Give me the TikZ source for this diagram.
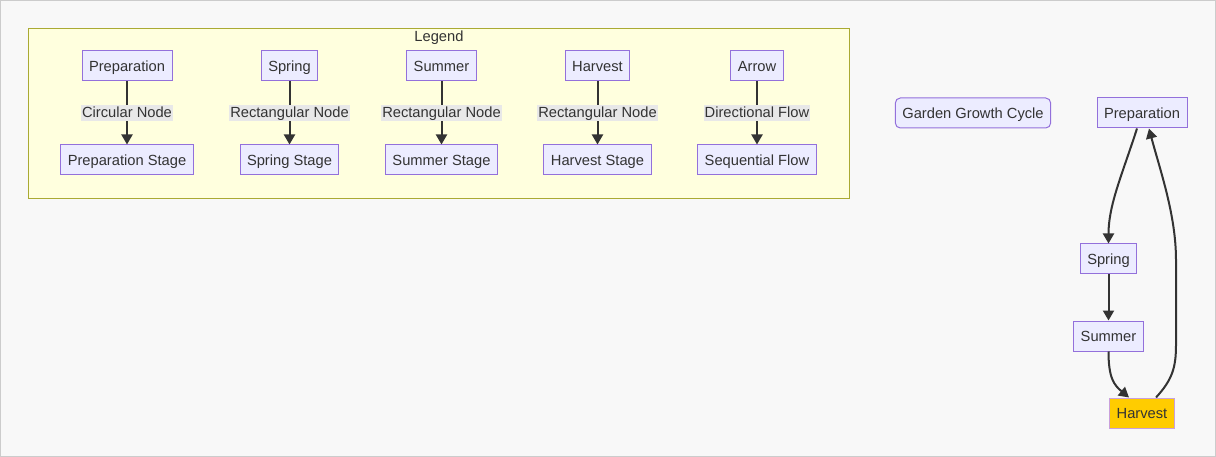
\documentclass[tikz,border=0pt]{standalone}
\usepackage{fontspec}
\setmainfont{Liberation Sans}
\usetikzlibrary{arrows.meta}

\definecolor{bgc}{HTML}{F8F8F8}
\definecolor{framec}{HTML}{CCCCCC}
\definecolor{legfill}{HTML}{FFFFDE}
\definecolor{legline}{HTML}{AAAA33}
\definecolor{boxfill}{HTML}{ECECFF}
\definecolor{boxline}{HTML}{9370DB}
\definecolor{txt}{HTML}{333333}
\definecolor{lblfill}{HTML}{E8E8E8}
\definecolor{gold}{HTML}{FFCC00}
\definecolor{goldline}{HTML}{C9A0DC}

\begin{document}
\begin{tikzpicture}[x=1pt, y=-1pt,
    font=\fontsize{14.7}{17}\selectfont, text=txt,
    box/.style={rectangle, draw=boxline, fill=boxfill, line width=1pt,
      minimum height=30pt, inner xsep=7pt, inner ysep=0pt,
      text height=12.5pt, text depth=2pt},
    elabel/.style={fill=lblfill, inner xsep=1pt, inner ysep=0.5pt, text=txt,
      text height=12.5pt, text depth=2.5pt},
    flow/.style={draw=txt, line width=2pt, -{Triangle[length=10pt, width=11pt]}}]

    % 背景
    \useasboundingbox (0,0) rectangle (1216,457);
    \draw[framec, fill=bgc] (0.5,0.5) rectangle (1215.5,456.5);
    \draw[legline, fill=legfill, line width=1pt] (28.5,28.5) rectangle (849.5,198.5);
    \node[text height=12.5pt, text depth=2pt] (legend) at (439,36) {Legend};

    % 凡例のノード
    \node[box] (lp) at (127,66) {Preparation};
    \node[box] (lps) at (127,160) {Preparation Stage};
    \node[box] (ls) at (289.5,66) {Spring};
    \node[box] (lss) at (289.5,160) {Spring Stage};
    \node[box] (lu) at (441.5,66) {Summer};
    \node[box] (lus) at (441.5,160) {Summer Stage};
    \node[box] (lh) at (597.5,66) {Harvest};
    \node[box] (lhs) at (597.5,160) {Harvest Stage};
    \node[box] (la) at (757,66) {Arrow};
    \node[box] (las) at (757,160) {Sequential Flow};

    % 凡例のエッジ
    \draw[flow] (lp) -- node[elabel] {Circular Node} (lps);
    \draw[flow] (ls) -- node[elabel] {Rectangular Node} (lss);
    \draw[flow] (lu) -- node[elabel] {Rectangular Node} (lus);
    \draw[flow] (lh) -- node[elabel] {Rectangular Node} (lhs);
    \draw[flow] (la) -- node[elabel] {Directional Flow} (las);

    % サイクルのノード
    \node[box, rounded corners=5pt] (title) at (973,113) {Garden Growth Cycle};
    \node[box] (prep) at (1142,113) {Preparation};
    \node[box] (spring) at (1108.5,259) {Spring};
    \node[box] (summer) at (1108.5,336) {Summer};
    \node[box, fill=gold, draw=goldline] (harvest) at (1142,413) {Harvest};

    % サイクルのエッジ
    \draw[flow] ([xshift=-5pt]prep.south) .. controls (1122,175) and (1108.5,205) .. (spring.north);
    \draw[flow] (spring) -- (summer);
    \draw[flow] (summer.south) .. controls (1108.5,378) and (1114,385) .. ([xshift=-13pt]harvest.north);
    \draw[flow] ([xshift=14pt]harvest.north) .. controls (1172,380) and (1176,368) .. (1176,345)
      -- (1176,260) .. controls (1176,215) and (1160,170) .. ([xshift=7pt]prep.south);
\end{tikzpicture}
\end{document}
